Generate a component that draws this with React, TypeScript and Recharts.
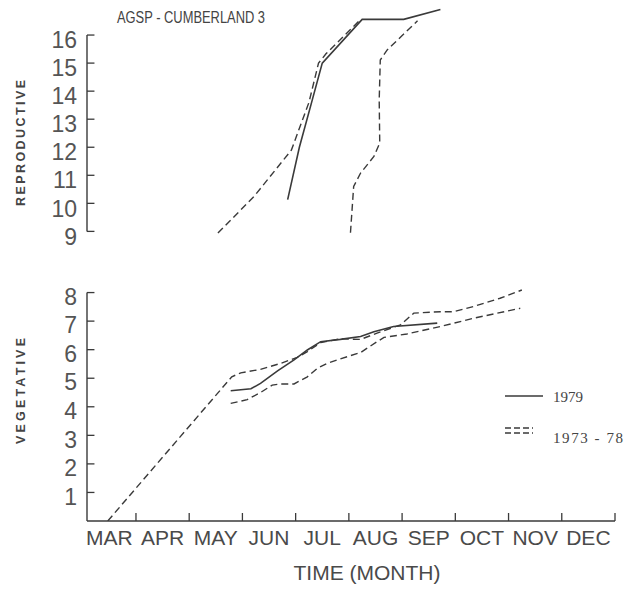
import React from 'react';
import { LineChart, Line, XAxis, YAxis, ReferenceLine } from 'recharts';

// month index: 0 = start of MAR, 1 = start of APR, ...
const MONTHS = ['MAR', 'APR', 'MAY', 'JUN', 'JUL', 'AUG', 'SEP', 'OCT', 'NOV', 'DEC'];
const MONTH_CENTERS = [0.5, 1.5, 2.5, 3.5, 4.5, 5.5, 6.5, 7.5, 8.5, 9.5];
const MONTH_BOUNDS = [1, 2, 3, 4, 5, 6, 7, 8, 9, 10];
const REPRO_TICKS = [9, 10, 11, 12, 13, 14, 15, 16];
const VEG_TICKS = [1, 2, 3, 4, 5, 6, 7, 8];

// reproductive stage
const repro1979Month = [3.85, 4.07, 4.3, 4.5, 5.25, 6.03, 6.72];
const repro1979Value = [10.13, 12.0, 13.6, 15.0, 16.56, 16.56, 16.91];
const reproEarlyMonth = [2.54, 3.22, 3.92, 4.25, 4.43, 4.57, 5.22];
const reproEarlyValue = [8.94, 10.25, 11.9, 13.6, 15.0, 15.33, 16.56];
const reproLateMonth = [5.03, 5.09, 5.22, 5.47, 5.58, 5.57, 5.59, 5.72, 6.29];
const reproLateValue = [8.95, 10.6, 11.08, 11.67, 12.15, 13.69, 15.11, 15.47, 16.51];

// vegetative stage
const veg1979Month = [2.78, 3.16, 3.34, 3.66, 3.97, 4.22, 4.47, 4.84, 5.22, 5.47, 5.84, 6.66];
const veg1979Value = [4.56, 4.63, 4.82, 5.26, 5.64, 5.99, 6.28, 6.36, 6.46, 6.63, 6.81, 6.93];
const vegUpperMonth = [0.47, 2.8, 2.97, 3.34, 3.72, 4.03, 4.22, 4.47, 4.84, 5.22, 5.53, 5.97, 6.22, 6.72, 6.97, 7.34, 7.84, 8.25];
const vegUpperValue = [0, 5.05, 5.19, 5.31, 5.52, 5.73, 5.93, 6.25, 6.38, 6.36, 6.58, 6.87, 7.28, 7.33, 7.33, 7.51, 7.8, 8.09];
const vegLowerMonth = [2.78, 3.09, 3.34, 3.56, 3.72, 3.97, 4.22, 4.41, 4.59, 4.84, 5.22, 5.53, 5.66, 6.09, 6.72, 7.34, 8.22];
const vegLowerValue = [4.12, 4.25, 4.5, 4.76, 4.8, 4.8, 5.05, 5.35, 5.52, 5.68, 5.9, 6.28, 6.43, 6.55, 6.81, 7.1, 7.45];

const zip = (ms: number[], vs: number[]) => ms.map((m, i) => ({ m, v: vs[i] }));

const X_MIN = 0.08;
const X_MAX = 10;
const INK = '#3a3a3a';
const DASH = '7 4';
const SANS = '"Liberation Sans", Arial, sans-serif';

function YTick({ x, y, payload, shift }: any) {
  return (
    <text x={x} y={y + shift} dy="0.355em" textAnchor="end" fontFamily={SANS} fontSize={23} fill="#555">
      {payload.value}
    </text>
  );
}

function XTick({ x, y, payload }: any) {
  return (
    <text x={x} y={y} dy="0.71em" textAnchor="middle" fontFamily={SANS} fontSize={21} fill="#4a4a4a">
      {MONTHS[Math.round(payload.value - 0.5)]}
    </text>
  );
}

function axisSegments(ticks: number[], lo: number, hi: number) {
  const out = [
    <ReferenceLine
      key="ax"
      segment={[{ x: X_MIN, y: lo }, { x: X_MIN, y: hi }]}
      stroke={INK}
      strokeWidth={1.4}
      ifOverflow="visible"
    />,
  ];
  ticks.forEach((t) =>
    out.push(
      <ReferenceLine
        key={'t' + t}
        segment={[{ x: X_MIN, y: t }, { x: X_MIN + 0.14, y: t }]}
        stroke={INK}
        strokeWidth={1.3}
        ifOverflow="visible"
      />
    )
  );
  return out;
}

export default function App() {
  return (
    <div style={{ position: 'absolute', left: 0, top: 0, width: 624, height: 589, background: '#fff' }}>
      <div style={{ position: 'absolute', left: 0, top: 0 }}>
        <LineChart width={624} height={252} margin={{ top: 7, right: 9, left: 0, bottom: 15 }}>
          <XAxis type="number" dataKey="m" domain={[X_MIN, X_MAX]} allowDataOverflow hide />
          <YAxis
            type="number"
            domain={[8.8, 17]}
            allowDataOverflow
            ticks={REPRO_TICKS}
            width={87}
            axisLine={false}
            tickLine={false}
            tickMargin={4}
            tick={<YTick shift={5} />}
            interval={0}
          />
          {axisSegments(REPRO_TICKS, 9, 16)}
          <Line data={zip(reproEarlyMonth, reproEarlyValue)} dataKey="v" stroke={INK} strokeWidth={1.4} strokeDasharray={DASH} dot={false} isAnimationActive={false} />
          <Line data={zip(reproLateMonth, reproLateValue)} dataKey="v" stroke={INK} strokeWidth={1.4} strokeDasharray={DASH} dot={false} isAnimationActive={false} />
          <Line data={zip(repro1979Month, repro1979Value)} dataKey="v" stroke={INK} strokeWidth={1.6} dot={false} isAnimationActive={false} />
        </LineChart>
      </div>
      <div style={{ position: 'absolute', left: 0, top: 250 }}>
        <LineChart width={624} height={339} margin={{ top: 34, right: 9, left: 0, bottom: 38 }}>
          <XAxis
            type="number"
            dataKey="m"
            domain={[X_MIN, X_MAX]}
            allowDataOverflow
            ticks={MONTH_CENTERS}
            interval={0}
            height={30}
            axisLine={{ stroke: INK, strokeWidth: 1.4 }}
            tickLine={false}
            tickMargin={3}
            tick={<XTick />}
          />
          <YAxis
            type="number"
            domain={[0, 8.3]}
            allowDataOverflow
            ticks={VEG_TICKS}
            width={87}
            axisLine={false}
            tickLine={false}
            tickMargin={4}
            tick={<YTick shift={4} />}
            interval={0}
          />
          {axisSegments(VEG_TICKS, 0, 8)}
          {MONTH_BOUNDS.map((b) => (
            <ReferenceLine
              key={'mb' + b}
              segment={[{ x: b, y: 0 }, { x: b, y: 0.28 }]}
              stroke={INK}
              strokeWidth={1.3}
              ifOverflow="visible"
            />
          ))}
          <Line data={zip(vegUpperMonth, vegUpperValue)} dataKey="v" stroke={INK} strokeWidth={1.4} strokeDasharray={DASH} dot={false} isAnimationActive={false} />
          <Line data={zip(vegLowerMonth, vegLowerValue)} dataKey="v" stroke={INK} strokeWidth={1.4} strokeDasharray={DASH} dot={false} isAnimationActive={false} />
          <Line data={zip(veg1979Month, veg1979Value)} dataKey="v" stroke={INK} strokeWidth={1.6} dot={false} isAnimationActive={false} />
        </LineChart>
      </div>
      <svg width={624} height={589} style={{ position: 'absolute', left: 0, top: 0, pointerEvents: 'none' }}>
        <text x={117} y={23} fontFamily={'"Liberation Sans Narrow", ' + SANS} fontSize={16} fill="#444" textLength={148} lengthAdjust="spacingAndGlyphs">
          AGSP - CUMBERLAND 3
        </text>
        <text transform="translate(25,143) rotate(-90)" textAnchor="middle" fontFamily={SANS} fontWeight="bold" fontSize={12.5} fill="#444" textLength={126} lengthAdjust="spacing">
          REPRODUCTIVE
        </text>
        <text transform="translate(25,391) rotate(-90)" textAnchor="middle" fontFamily={SANS} fontWeight="bold" fontSize={12.5} fill="#444" textLength={106} lengthAdjust="spacing">
          VEGETATIVE
        </text>
        <text x={367} y={580} textAnchor="middle" fontFamily={SANS} fontSize={21} fill="#4a4a4a">
          TIME (MONTH)
        </text>
        <line x1={505} y1={396} x2={543} y2={396} stroke={INK} strokeWidth={1.4} />
        <text x={553} y={402} fontFamily={'"Liberation Serif", serif'} fontSize={15} fill="#444" textLength={30}>
          1979
        </text>
        <line x1={505} y1={428} x2={533} y2={428} stroke={INK} strokeWidth={1.3} strokeDasharray="6 3" />
        <line x1={505} y1={433} x2={533} y2={433} stroke={INK} strokeWidth={1.3} strokeDasharray="6 3" />
        <text x={553} y={443} fontFamily={'"Liberation Serif", serif'} fontSize={15} fill="#444" textLength={70} lengthAdjust="spacing">
          1973 - 78
        </text>
      </svg>
    </div>
  );
}
